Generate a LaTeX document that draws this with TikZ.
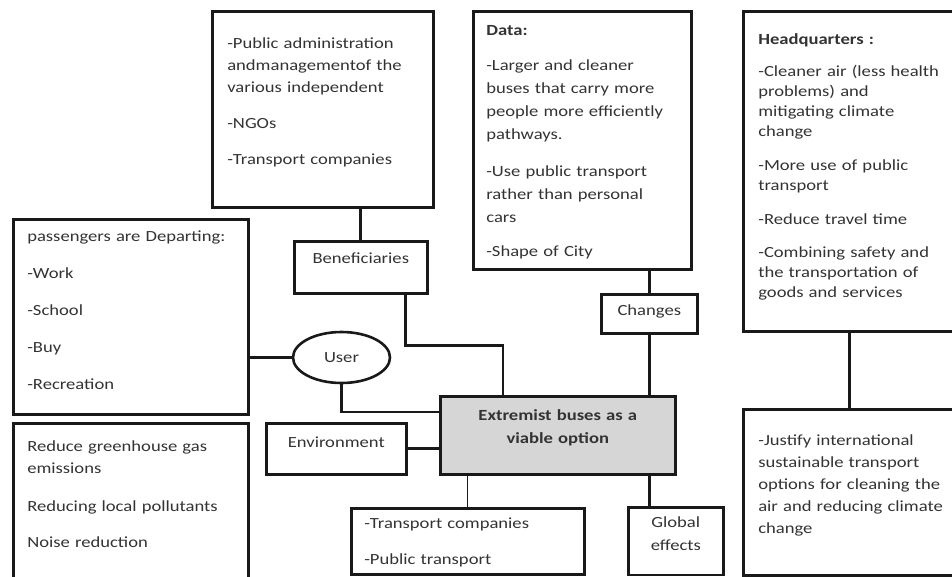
\documentclass[tikz,border=0pt]{standalone}
\usepackage{fontspec}
\setmainfont{Carlito}[FakeStretch=1.2]
\usetikzlibrary{positioning,shapes.geometric}

\begin{document}
\begin{tikzpicture}[x=1pt,y=-1pt]
  % some colors
  \colorlet{ink}{black!80}
  \colorlet{frame}{black!90}
  \colorlet{core}{black!16}
  % some styles
  \tikzset{
    box/.style={
      draw=frame,
      line width=2.6pt,
      anchor=north west,
      inner xsep=0pt,
      inner ysep=0pt,
      text=ink,
      font=\fontsize{15.5}{#1}\selectfont,
    },
    box/.default=22,
    pad/.style={execute at begin node={\raggedright\leftskip=#1pt\relax}},
    link/.style={frame,line width=2.8pt},
    thin link/.style={frame,line width=1.2pt},
  }
  \useasboundingbox (0,0) rectangle (952,576);
  % the big text boxes
  \node[box,pad=15,text width=221,text height=37.5,text depth=158.5] (admin) at (211,10)
    {-Public administration\\ andmanagementof the\\ various independent\\[14pt]
     -NGOs\\[14pt] -Transport companies};
  \node[box=23,pad=13,text width=218,text height=24.5,text depth=233.5] (data) at (472,10)
    {{\bfseries Data:}\\[12pt] -Larger and cleaner\\ buses that carry more\\
     people more efficiently\\ pathways.\\[14pt] -Use public transport\\
     rather than personal\\ cars\\[11pt] -Shape of City};
  \node[box=20,pad=15,text width=213,text height=33.5,text depth=286.5] (hq) at (742,10)
    {{\bfseries Headquarters :}\\[12pt] -Cleaner air (less health\\ problems) and\\
     mitigating climate\\ change\\[14pt] -More use of public\\ transport\\[14pt]
     -Reduce travel time\\[13pt] -Combining safety and\\ the transportation of\\
     goods and services};
  \node[box,pad=14,text width=235,text height=22.5,text depth=172.5] (passengers) at (12,218)
    {passengers are Departing:\\[15pt] -Work\\[15pt] -School\\[15pt] -Buy\\[15pt] -Recreation};
  \node[box,pad=14,text width=235,text height=28.5,text depth=144.5] (greenhouse) at (12,422)
    {Reduce greenhouse gas\\ emissions\\[16pt] Reducing local pollutants\\[14pt] Noise reduction};
  \node[box,pad=15,text width=213,text height=36.5,text depth=129.5] (justify) at (742,408)
    {-Justify international\\ sustainable transport\\ options for cleaning the\\
     air and reducing climate\\ change};
  \node[box,pad=13,text width=233,text height=20.5,text depth=45.5] (operators) at (350,507)
    {-Transport companies\\[14pt] -Public transport};
  % the small boxes
  \node[box,align=center,text width=133,text height=22.5,text depth=29.5] (benef) at (293,240) {Beneficiaries};
  \node[box,align=center,text width=96,text height=21.5,text depth=17.5] (changes) at (600,293) {Changes};
  \node[box,align=center,text width=140,text height=24.5,text depth=26.5] (env) at (265,422) {Environment};
  \node[box=23,align=center,text width=95,text height=20.5,text depth=47] (global) at (627,506) {Global\\ effects};
  \node[box=23,align=center,fill=core,font=\fontsize{15.5}{23}\selectfont\bfseries,
        text width=235,text height=24.5,text depth=53.5] (bus) at (439,395)
    {Extremist buses as a\\ viable option};
  \node[draw=frame,line width=2.6pt,ellipse,text=ink,font=\fontsize{15.5}{22}\selectfont,
        minimum width=97,minimum height=51,inner sep=0pt] (user) at (341.5,357.5) {User};
  % connectors
  \draw[link] (benef.north) -- (benef.north |- admin.south);
  \draw[link] ([xshift=-23pt]benef.south east) -- ++(0,51) -| ([xshift=64pt]bus.north west);
  \draw[link] (changes.north) -- (changes.north |- data.south);
  \draw[link] (changes.south) -- (changes.south |- bus.north);
  \draw[link] (user.west) -- (user.west -| passengers.east);
  \draw[link] (user.south) |- ([yshift=-17pt]bus.north west);
  \draw[link] (env.east) -- (env.east -| bus.west);
  \draw[thin link] (operators.north) -- (operators.north |- bus.south);
  \draw[link] (bus.south -| changes.south) -- (global.north -| changes.south);
  \draw[link] (hq.south) -- (justify.north);
\end{tikzpicture}
\end{document}
